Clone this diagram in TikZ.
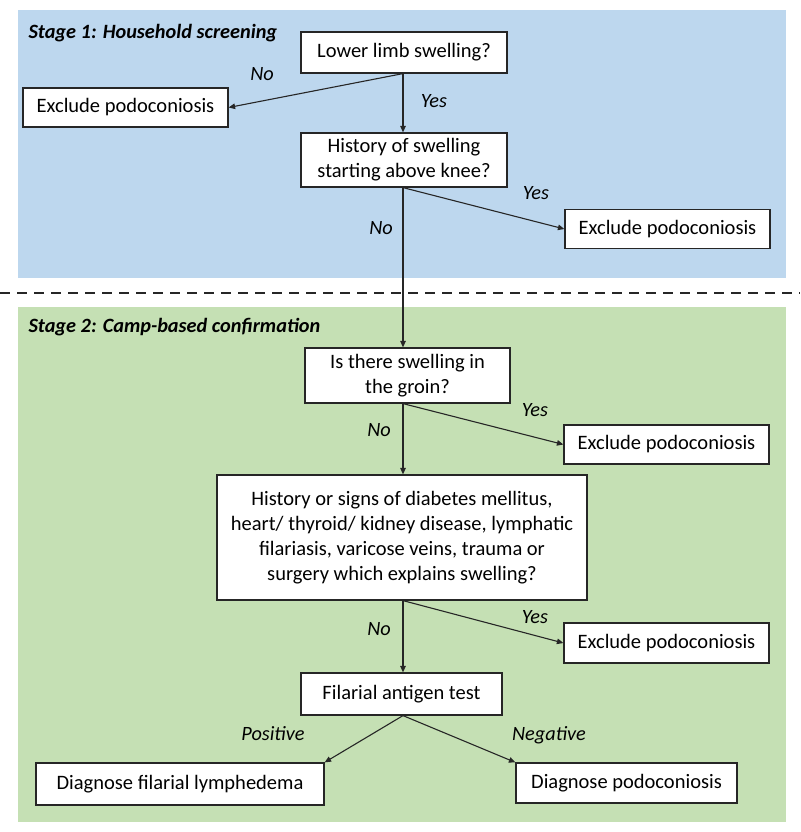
\documentclass[tikz,border=0pt]{standalone}
\usepackage{fontspec}
\setmainfont{Carlito}
\usetikzlibrary{arrows.meta,calc}
\definecolor{stageblue}{HTML}{BDD7EE}
\definecolor{stagegreen}{HTML}{C5E0B4}
\definecolor{linegray}{HTML}{262626}
\tikzset{
  box/.style={draw=linegray, line width=1.2pt, fill=white, align=center, inner sep=2pt,
    font=\fontsize{20.5}{25}\selectfont},
  arr/.style={draw=linegray, line width=1.1pt, -{Triangle[length=6.5pt,width=5.5pt]}},
  lab/.style={font=\fontsize{20.3}{24}\selectfont\itshape},
  stagetitle/.style={font=\fontsize{20.3}{24}\selectfont\bfseries\itshape, anchor=west},
}
\begin{document}
\begin{tikzpicture}[x=1pt,y=-1pt]
\useasboundingbox (0,0) rectangle (800,832);
% panels
\fill[stageblue] (18,10) rectangle (786,278);
\fill[stagegreen] (18,307) rectangle (786,822);
\draw[line width=2pt, dash pattern=on 10pt off 7pt, linegray] (0,293) -- (800,293);
\node[stagetitle] (s1) at (25,33) {Stage 1: Household screening};
\node[stagetitle] (s2) at (25,327) {Stage 2: Camp-based confirmation};
% boxes
\node[box, minimum width=206pt, minimum height=41pt] (q1) at (404,52.5) {Lower limb swelling?};
\node[box, minimum width=205pt, minimum height=39pt] (ex1) at (125.5,107.5) {Exclude podoconiosis};
\node[box, minimum width=206pt, minimum height=54pt] (q2) at (404,160) {History of swelling\\starting above knee?};
\node[box, minimum width=205pt, minimum height=39pt] (ex2) at (667.5,229) {Exclude podoconiosis};
\node[box, minimum width=205pt, minimum height=55pt] (q3) at (407.5,375.5) {Is there swelling in\\the groin?};
\node[box, minimum width=205pt, minimum height=39pt] (ex3) at (666.5,444.5) {Exclude podoconiosis};
\node[box, minimum width=370pt, minimum height=125pt] (q4) at (402,537.5) {History or signs of diabetes mellitus,\\heart/ thyroid/ kidney disease, lymphatic\\filariasis, varicose veins, trauma or\\surgery which explains swelling?};
\node[box, minimum width=205pt, minimum height=40pt] (ex4) at (666.5,643) {Exclude podoconiosis};
\node[box, minimum width=201pt, minimum height=42pt] (q5) at (401.5,694) {Filarial antigen test};
\node[box, minimum width=288pt, minimum height=42pt] (d1) at (180,784) {Diagnose filarial lymphedema};
\node[box, minimum width=221pt, minimum height=40pt] (d2) at (626.5,783) {Diagnose podoconiosis};
% connectors
\coordinate (o1) at ($(q1.south)+(-1,0)$);
\draw[arr] (o1) -- (ex1.east);
\draw[arr] (o1) -- (o1 |- q2.north);
\coordinate (o2) at ($(q2.south)+(-1,0)$);
\draw[arr] (o2) -- (ex2.west);
\draw[arr] (o2) -- (o2 |- q3.north);
\coordinate (o3) at (o2 |- q3.south);
\draw[arr] (o3) -- (ex3.west);
\draw[arr] (o3) -- (o3 |- q4.north);
\coordinate (o4) at (o2 |- q4.south);
\draw[arr] (o4) -- (ex4.west);
\draw[arr] (o4) -- (o4 |- q5.north);
\coordinate (o5) at (o2 |- q5.south);
\draw[arr] (o5) -- (d1.north east);
\draw[arr] (o5) -- (d2.north west);
% labels
\node[lab] (l1) at (262,74) {No};
\node[lab] (l2) at (434,101) {Yes};
\node[lab] (l3) at (536,193) {Yes};
\node[lab] (l4) at (381,228) {No};
\node[lab] (l5) at (535,410) {Yes};
\node[lab] (l6) at (379,430) {No};
\node[lab] (l7) at (535,617) {Yes};
\node[lab] (l8) at (379,629) {No};
\node[lab] (l9) at (273,734) {Positive};
\node[lab] (l10) at (549,735) {Negative};
\end{tikzpicture}
\end{document}
